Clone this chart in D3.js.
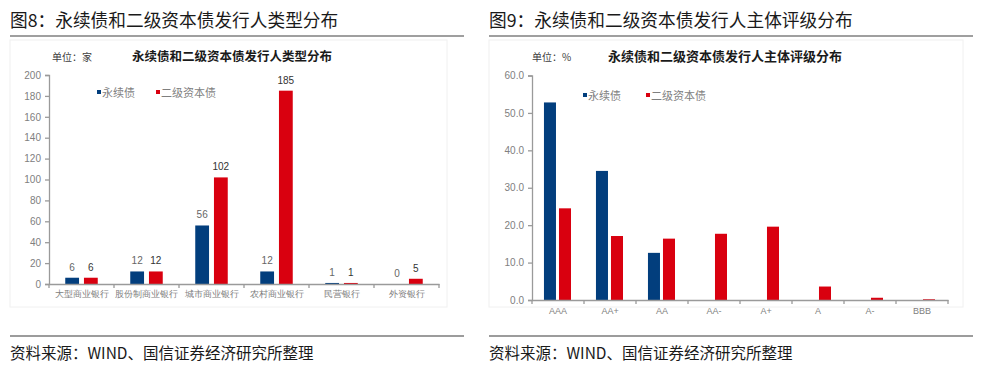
<!DOCTYPE html>
<html>
<head>
<meta charset="utf-8">
<script src="https://cdn.jsdelivr.net/npm/d3@7"></script>
<style>
  body { margin: 0; background: #fff; }
  svg { display: block; font-family: "Noto Sans CJK SC", "Liberation Sans", sans-serif; }
  .axis path, .axis line { stroke: #9a9a9a; stroke-width: 1.3; }
  .axis text { fill: #808080; }
</style>
</head>
<body>
<div id="chart"></div>
<script>
// ---- data ----
const typeCategories = ["大型商业银行", "股份制商业银行", "城市商业银行", "农村商业银行", "民营银行", "外资银行"];
const typePerpetual = [6, 12, 56, 12, 1, 0];
const typeTier2 = [6, 12, 102, 185, 1, 5];
const typeTicks = [0, 20, 40, 60, 80, 100, 120, 140, 160, 180, 200];

const ratingCategories = ["AAA", "AA+", "AA", "AA-", "A+", "A", "A-", "BBB"];
const ratingPerpetual = [52.8, 34.5, 12.6, 0, 0, 0, 0, 0];
const ratingTier2 = [24.5, 17.1, 16.4, 17.7, 19.6, 3.6, 0.6, 0.2];
const ratingTicks = [0, 10, 20, 30, 40, 50, 60];

const seriesNames = ["永续债", "二级资本债"];
const colors = {"永续债": "#023e7d", "二级资本债": "#d9000f"};

const svg = d3.select("#chart").append("svg")
    .attr("width", 986)
    .attr("height", 376);

// header + footer rules for one panel
function drawFrame(x0, x1, heading) {
    svg.append("text")
        .attr("x", x0).attr("y", 27)
        .attr("font-size", 17.7)
        .attr("fill", "#1a1a1a")
        .text(heading);
    svg.append("line")
        .attr("x1", x0).attr("x2", x1)
        .attr("y1", 36).attr("y2", 36)
        .attr("stroke", "#7f7f7f").attr("stroke-width", 1.5);
    svg.append("line")
        .attr("x1", x0).attr("x2", x1)
        .attr("y1", 336).attr("y2", 336)
        .attr("stroke", "#3a3a3a").attr("stroke-width", 1.2);
    svg.append("text")
        .attr("x", x0).attr("y", 359)
        .attr("font-size", 15.5)
        .attr("fill", "#1a1a1a")
        .text("资料来源：WIND、国信证券经济研究所整理");
}

function drawChart(cfg) {
    const g = svg.append("g");

    // faint border of the chart picture
    g.append("rect")
        .attr("x", cfg.box[0]).attr("y", cfg.box[1])
        .attr("width", cfg.box[2]).attr("height", cfg.box[3])
        .attr("fill", "none").attr("stroke", "#f0f0f0");

    const x = d3.scaleBand().domain(cfg.categories).range([cfg.left, cfg.right]).padding(0);
    const sub = d3.scaleBand().domain(seriesNames)
        .range([x.bandwidth() * cfg.inner[0], x.bandwidth() * cfg.inner[1]])
        .paddingInner(cfg.gap);
    const y = d3.scaleLinear().domain(cfg.domain).range([cfg.bottom, cfg.top]);

    // title + unit
    g.append("text")
        .attr("x", cfg.titleX).attr("y", 61)
        .attr("font-size", cfg.titleSize).attr("font-weight", "bold")
        .attr("fill", "#1a1a1a")
        .text(cfg.title);
    g.append("text")
        .attr("x", cfg.unitX).attr("y", 61)
        .attr("font-size", 10).attr("fill", "#404040")
        .text(cfg.unit);

    // y axis
    g.append("g")
        .attr("class", "axis")
        .attr("transform", "translate(" + cfg.left + ",0)")
        .call(d3.axisLeft(y).tickValues(cfg.ticks).tickSize(4).tickPadding(4).tickFormat(cfg.tickFormat))
        .call(a => a.selectAll("text").attr("font-size", 10).attr("font-family", "Liberation Sans"));

    // bars
    const rows = cfg.categories.map((c, i) => ({cat: c, values: [
        {name: seriesNames[0], v: cfg.perpetual[i]},
        {name: seriesNames[1], v: cfg.tier2[i]}
    ]}));
    const catG = g.selectAll(".catG")
        .data(rows)
        .join("g")
        .attr("class", "catG")
        .attr("transform", d => "translate(" + x(d.cat) + ",0)");
    catG.selectAll("rect")
        .data(d => d.values)
        .join("rect")
        .attr("x", d => sub(d.name))
        .attr("width", sub.bandwidth())
        .attr("y", d => y(d.v))
        .attr("height", d => y(0) - y(d.v))
        .attr("fill", d => colors[d.name]);
    if (cfg.labels) {
        catG.selectAll(".valLabel")
            .data(d => d.values)
            .join("text")
            .attr("class", "valLabel")
            .attr("x", d => sub(d.name) + sub.bandwidth() / 2)
            .attr("y", d => y(d.v) - 7)
            .attr("text-anchor", "middle")
            .attr("font-size", 10)
            .attr("font-family", "Liberation Sans")
            .attr("fill", (d, i) => i ? "#333" : "#666")
            .text(d => d.v);
    }

    // x axis: labels centred, ticks on category boundaries
    const xAxis = g.append("g")
        .attr("class", "axis")
        .attr("transform", "translate(0," + cfg.bottom + ")")
        .call(d3.axisBottom(x).tickSize(0).tickPadding(cfg.xPad).tickSizeOuter(0))
        .call(a => a.selectAll("text").attr("font-size", cfg.xFont).attr("fill", "#666"));
    const edges = cfg.categories.map(c => x(c)).concat([x.range()[1]]);
    xAxis.selectAll(".edge")
        .data(edges)
        .join("line")
        .attr("class", "edge")
        .attr("x1", d => d).attr("x2", d => d)
        .attr("y1", 0).attr("y2", 4);

    // legend
    seriesNames.forEach((name, i) => {
        const lx = cfg.legendX[i];
        g.append("rect")
            .attr("x", lx).attr("y", cfg.legendY - 3)
            .attr("width", 4).attr("height", 4)
            .attr("fill", colors[name]);
        g.append("text")
            .attr("x", lx + 5).attr("y", cfg.legendY + 4)
            .attr("font-size", 11).attr("fill", "#7f7f7f")
            .text(name);
    });
}

drawFrame(10, 464, "图8：永续债和二级资本债发行人类型分布");
drawFrame(489, 973, "图9：永续债和二级资本债发行人主体评级分布");

drawChart({
    box: [10, 40, 437, 267],
    categories: typeCategories, perpetual: typePerpetual, tier2: typeTier2,
    ticks: typeTicks, domain: [0, 200], tickFormat: d3.format("d"),
    left: 49, right: 439, top: 75, bottom: 284,
    inner: [0.25, 0.75], gap: 5 / 19,
    title: "永续债和二级资本债发行人类型分布", titleX: 132, titleSize: 12.5,
    unit: "单位：家", unitX: 52,
    labels: true, xPad: 7, xFont: 8.8,
    legendX: [97, 156], legendY: 93
});

drawChart({
    box: [489, 40, 474, 267],
    categories: ratingCategories, perpetual: ratingPerpetual, tier2: ratingTier2,
    ticks: ratingTicks, domain: [0, 60], tickFormat: d3.format(".1f"),
    left: 532, right: 948, top: 75.5, bottom: 300,
    inner: [0.23, 0.75], gap: 0.2,
    title: "永续债和二级资本债发行人主体评级分布", titleX: 608, titleSize: 13,
    unit: "单位：%", unitX: 532,
    labels: false, xPad: 8, xFont: 9,
    legendX: [583, 646], legendY: 96
});
</script>
</body>
</html>
